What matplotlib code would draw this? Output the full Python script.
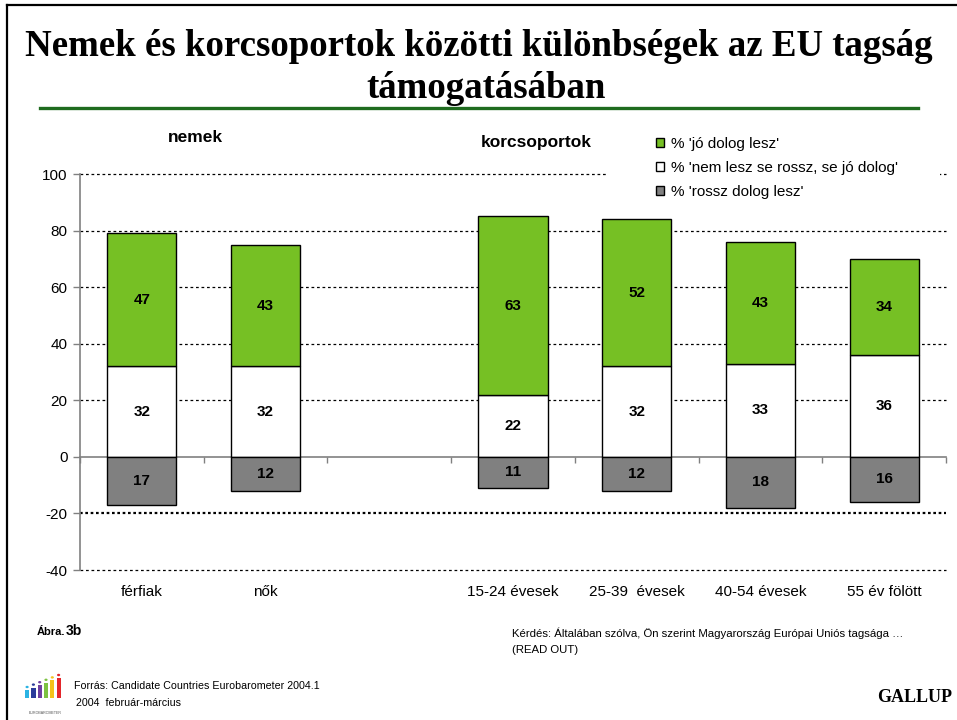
import matplotlib
matplotlib.use("Agg")
import matplotlib.pyplot as plt
from matplotlib.patches import Rectangle, Circle
from matplotlib.lines import Line2D
from matplotlib.ticker import NullFormatter
import numpy as np

# ---------------- data ----------------
categories = ['férfiak', 'nők', '15-24 évesek', '25-39  évesek', '40-54 évesek', '55 év fölött']
groups = ['nemek', 'nemek', 'korcsoportok', 'korcsoportok', 'korcsoportok', 'korcsoportok']
jo_dolog = [47, 43, 63, 52, 43, 34]          # % 'jó dolog lesz'
semleges = [32, 32, 22, 32, 33, 36]          # % 'nem lesz se rossz, se jó dolog'
rossz_dolog = [17, 12, 11, 12, 18, 16]       # % 'rossz dolog lesz'
series_labels = ["% 'jó dolog lesz'", "% 'nem lesz se rossz, se jó dolog'", "% 'rossz dolog lesz'"]
y_ticks = [-40, -20, 0, 20, 40, 60, 80, 100]

title = "Nemek és korcsoportok közötti különbségek az EU tagság\ntámogatásában"

# ---------------- style ----------------
GREEN = '#76C024'
GREY = '#808080'
W, H = 957, 720
plt.rcParams['font.family'] = ['Liberation Sans', 'DejaVu Sans']
plt.rcParams['axes.unicode_minus'] = False
fig = plt.figure(figsize=(W / 100, H / 100), dpi=100)

def fx(px):
    return px / W

def fy(py):
    return 1 - py / H

# positions: a blank slot between the groups
pos = []
gap = 0
for i, g in enumerate(groups):
    if i > 0 and g != groups[i - 1]:
        gap += 1
    pos.append(i + gap)
pos = np.array(pos, dtype=float)
n_slots = int(pos[-1]) + 1

ax = fig.add_axes([fx(80), fy(570), fx(946) - fx(80), fy(174) - fy(570)])
ax.set_xlim(-0.5, n_slots - 0.5)
ax.set_ylim(y_ticks[0], y_ticks[-1])

bw = 0.56
jo = np.array(jo_dolog)
se = np.array(semleges)
ro = np.array(rossz_dolog)
b_white = ax.bar(pos, se, bw, color='white', edgecolor='black', linewidth=1, zorder=2)
b_green = ax.bar(pos, jo, bw, bottom=se, color=GREEN, edgecolor='black', linewidth=1, zorder=2)
b_grey = ax.bar(pos, -ro, bw, color=GREY, edgecolor='black', linewidth=1, zorder=2)

lab_kw = dict(ha='center', va='center', fontsize=11, fontweight='bold', zorder=4)
for x, j, s, r in zip(pos, jo, se, ro):
    ax.text(x, s + j / 2, str(j), **lab_kw)
    ax.text(x, s / 2, str(s), **lab_kw)
    ax.text(x, -r / 2, str(r), **lab_kw)

# axes styling
for sp in ['top', 'right', 'bottom']:
    ax.spines[sp].set_visible(False)
ax.spines['left'].set_color(GREY)
ax.spines['left'].set_linewidth(1.2)
ax.set_yticks(y_ticks)
ax.tick_params(axis='y', direction='out', length=5, width=1, color=GREY, labelsize=11, pad=4)
ax.set_xticks(pos, categories)
ax.tick_params(axis='x', length=0, labelsize=11, pad=11)

ax.set_axisbelow(True)
ax.yaxis.grid(True, color='black', linestyle=(0, (2.2, 2.2)), linewidth=0.9)
for val, gl in zip(y_ticks, ax.get_ygridlines()):
    gl.set_clip_on(False)
    if val == 0:
        gl.set_visible(False)
    if val == -20:
        gl.set_linestyle((0, (1.2, 1.2)))
        gl.set_linewidth(1.6)

# zero line with boundary tick marks
zero_frac = (0 - y_ticks[0]) / (y_ticks[-1] - y_ticks[0])
sec = ax.secondary_xaxis(zero_frac)
sec.set_xticks(np.arange(-0.5, n_slots, 1.0))
sec.xaxis.set_major_formatter(NullFormatter())
sec.xaxis.set_ticks_position('bottom')
sec.tick_params(axis='x', direction='out', length=4, width=1, color=GREY)
sec.spines['bottom'].set_color(GREY)
sec.spines['bottom'].set_linewidth(1.2)
sec.set_zorder(1.5)

# white legend background hiding gridline
fig.add_artist(Rectangle((fx(608), fy(205)), fx(940) - fx(608), fy(126) - fy(205),
                         transform=fig.transFigure, facecolor='white', edgecolor='none', zorder=1))
leg = fig.legend([b_green, b_white, b_grey], series_labels, loc='upper left',
                 bbox_to_anchor=(fx(653), fy(134)), frameon=False, fontsize=11,
                 handlelength=0.55, handleheight=0.55, handletextpad=0.45,
                 labelspacing=0.65, borderpad=0.2, borderaxespad=0)
leg.set_zorder(6)

# group headers
fig.text(fx(195), fy(137), 'nemek', ha='center', va='center', fontsize=12.5, fontweight='bold')
fig.text(fx(536), fy(142), 'korcsoportok', ha='center', va='center', fontsize=12.5, fontweight='bold')

# title
fig.text(fx(479), fy(56), title.split('\n')[0], ha='center', va='baseline', fontsize=26.6,
         fontweight='bold', family='Liberation Serif')
fig.text(fx(486), fy(98), title.split('\n')[1], ha='center', va='baseline', fontsize=26.6,
         fontweight='bold', family='Liberation Serif')
fig.add_artist(Line2D([fx(40), fx(918)], [fy(108), fy(108)], transform=fig.transFigure,
                      color='#1F6B1F', linewidth=2.4))

# frame
fig.add_artist(Line2D([fx(7), fx(7)], [0, fy(5)], transform=fig.transFigure, color='black', linewidth=1.6))
fig.add_artist(Line2D([fx(7), 1], [fy(5), fy(5)], transform=fig.transFigure, color='black', linewidth=1.6))

# footer
fig.text(fx(37), fy(632), 'Ábra.', ha='left', va='center', fontsize=8, fontweight='bold')
fig.text(fx(66), fy(631), '3b', ha='left', va='center', fontsize=10, fontweight='bold')
fig.text(fx(512), fy(633), 'Kérdés: Általában szólva, Ön szerint Magyarország Európai Uniós tagsága …',
         ha='left', va='center', fontsize=8.2)
fig.text(fx(512), fy(650), '(READ OUT)', ha='left', va='center', fontsize=8.2)
fig.text(fx(74), fy(686), 'Forrás: Candidate Countries Eurobarometer 2004.1', ha='left', va='center',
         fontsize=7.7)
fig.text(fx(76), fy(703), '2004  február-március', ha='left', va='center', fontsize=7.7)
fig.text(fx(952), fy(698), 'GALLUP', ha='right', va='center', fontsize=13, fontweight='bold',
         family='Liberation Serif')

# small Eurobarometer logo (decoration)
logo_cols = ['#2BB3E3', '#2B3C9B', '#6E3FA0', '#7DC242', '#F4C21B', '#E3262B']
for k, c in enumerate(logo_cols):
    x0 = 25 + k * 6.3
    h = 8 + k * 2.4
    fig.add_artist(Rectangle((fx(x0), fy(698)), fx(4.2), fy(0) - fy(h), transform=fig.transFigure,
                             facecolor=c, edgecolor='none'))
    fig.add_artist(Circle((fx(x0 + 2.1), fy(698 - h - 3)), 1.6 / W, transform=fig.transFigure,
                          facecolor=c, edgecolor='none'))
fig.text(fx(45), fy(713), 'EUROBAROMETER', ha='center', va='center', fontsize=2.6, color='#555555')

fig.savefig('out.png', dpi=100)
